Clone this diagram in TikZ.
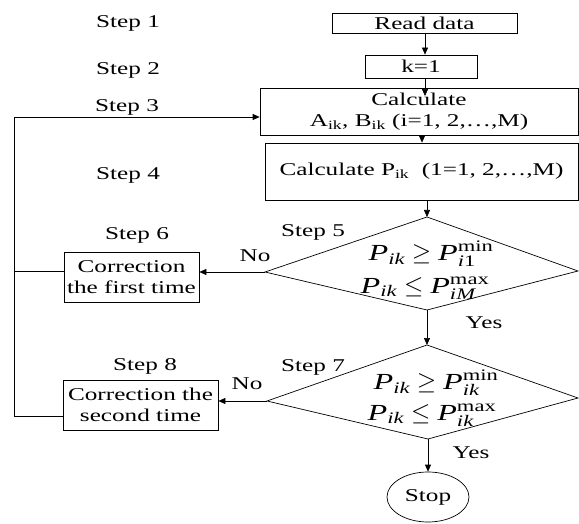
\documentclass[tikz,border=0pt]{standalone}
\usepackage{fontspec}
\setmainfont{Liberation Serif}[FakeStretch=1.4]
\usepackage{amsmath}
\usetikzlibrary{arrows.meta,shapes.geometric}
\tikzset{
  base/.style={font=\fontsize{18}{21}\selectfont, inner sep=0pt},
  box/.style={base, draw, line width=0.7pt, align=center},
  lbl/.style={base},
  fml/.style={font=\fontsize{23}{26}\selectfont, inner sep=0pt},
  ln/.style={line width=0.7pt},
  arr/.style={line width=0.7pt, -{Triangle[length=7pt,width=6pt]}},
}
\begin{document}
\begin{tikzpicture}[x=1pt,y=-1pt]
\useasboundingbox (0,0) rectangle (579,524);
% boxes
\node[box, minimum width=185pt, minimum height=20pt] (read) at (424.5,23) {Read data};
\node[box, minimum width=112pt, minimum height=23pt] (k) at (421,66.5) {k=1};
\node[box, minimum width=318pt, minimum height=47pt] (calc) at (419,111.5)
  {Calculate\\A\textsubscript{ik}, B\textsubscript{ik} (i=1, 2,\ldots,M)};
\node[box, minimum width=313pt, minimum height=57pt] (calcP) at (421.5,171.5)
  {\raisebox{-3pt}{Calculate P\textsubscript{ik}\ \ (1=1, 2,\ldots,M)}};
\node[box, minimum width=135pt, minimum height=50pt] (corr1) at (131.5,277)
  {Correction\\the first time};
\node[box, minimum width=155pt, minimum height=50pt] (corr2) at (140.5,405)
  {Correction the\\second time};
\node[box, ellipse, minimum width=82pt, minimum height=50pt] (stop) at (428,497) {Stop};
% diamonds
\coordinate (d1t) at (427,217);
\coordinate (d1r) at (578,271);
\coordinate (d1b) at (427,310);
\coordinate (d1l) at (265,272);
\coordinate (d2t) at (427,345);
\coordinate (d2r) at (578,398);
\coordinate (d2b) at (428,439);
\coordinate (d2l) at (267,401);
\draw[ln] (d1t) -- (d1r) -- (d1b) -- (d1l) -- cycle;
\draw[ln] (d2t) -- (d2r) -- (d2b) -- (d2l) -- cycle;
\node[fml] (f1a) at (431,254) {$\textit{P}_{\textit{ik}}\geq\textit{P}^{\text{min}}_{\textit{i}\text{1}}$};
\node[fml] (f1b) at (425,288) {$\textit{P}_{\textit{ik}}\leq\textit{P}^{\text{max}}_{\textit{iM}}$};
\node[fml] (f2a) at (436,383) {$\textit{P}_{\textit{ik}}\geq\textit{P}^{\text{min}}_{\textit{ik}}$};
\node[fml] (f2b) at (432,415) {$\textit{P}_{\textit{ik}}\leq\textit{P}^{\text{max}}_{\textit{ik}}$};
% step labels
\node[lbl] (s1) at (128,23) {Step 1};
\node[lbl] (s2) at (128,70) {Step 2};
\node[lbl] (s3) at (127,107) {Step 3};
\node[lbl] (s4) at (128,175) {Step 4};
\node[lbl] (s5) at (313,232) {Step 5};
\node[lbl] (s6) at (137,235) {Step 6};
\node[lbl] (s7) at (313,367) {Step 7};
\node[lbl] (s8) at (145,366) {Step 8};
\node[lbl] (no1) at (255,256) {No};
\node[lbl] (no2) at (247,384) {No};
\node[lbl] (yes1) at (484,323) {Yes};
\node[lbl] (yes2) at (471,453) {Yes};
% connectors
\coordinate (sp) at (425,0);
\coordinate (kin) at (425,96);
\draw[arr] (read.south -| sp) -- (k.north -| sp);
\draw[arr] (k.south -| sp) -- (kin);
\draw[arr] (calc.south -| 422,0) -- (calcP.north -| 422,0);
\draw[arr] (calcP.south -| d1t) -- (d1t);
\draw[arr] (d1l) -- (corr1.east |- d1l);
\draw[arr] (d1b) -- (d2t);
\draw[arr] (d2l) -- (corr2.east |- d2l);
\draw[arr] (d2b) -- (stop.north);
\coordinate (lb) at (14,416);
\coordinate (lt) at (14,117);
\coordinate (j1) at (14,271);
\draw[ln] (corr2.west |- lb) -- (lb) -- (lt);
\draw[arr] (lt) -- (calc.west |- lt);
\draw[ln] (corr1.west |- j1) -- (j1);
\end{tikzpicture}
\end{document}
